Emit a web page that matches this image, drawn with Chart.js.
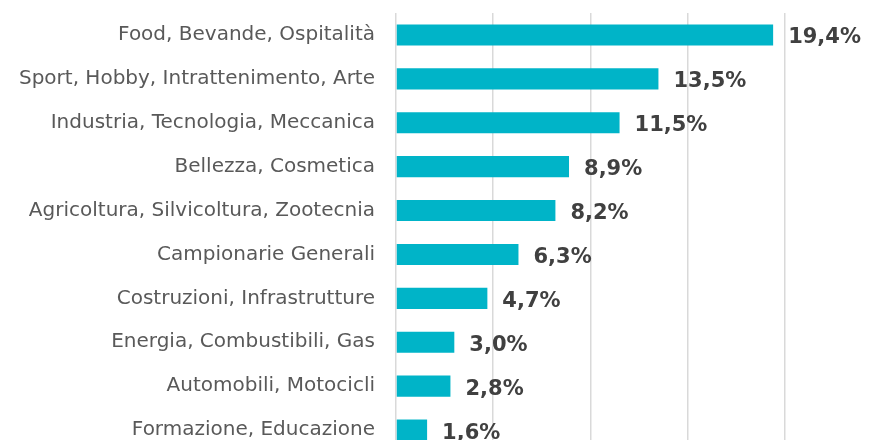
<!DOCTYPE html>
<html><head><meta charset="utf-8">
<script src="https://cdn.jsdelivr.net/npm/chart.js@4"></script>
<style>
html,body{margin:0;padding:0;background:#fff;overflow:hidden;width:870px;height:440px;}
canvas{position:absolute;left:0;top:0;}
</style></head>
<body>
<canvas id="c" width="882" height="452"></canvas>
<script>
const categories = [
  "Food, Bevande, Ospitalità",
  "Sport, Hobby, Intrattenimento, Arte",
  "Industria, Tecnologia, Meccanica",
  "Bellezza, Cosmetica",
  "Agricoltura, Silvicoltura, Zootecnia",
  "Campionarie Generali",
  "Costruzioni, Infrastrutture",
  "Energia, Combustibili, Gas",
  "Automobili, Motocicli",
  "Formazione, Educazione"
];
const values = [19.4, 13.5, 11.5, 8.9, 8.2, 6.3, 4.7, 3.0, 2.8, 1.6];
const valueLabels = ["19,4%","13,5%","11,5%","8,9%","8,2%","6,3%","4,7%","3,0%","2,8%","1,6%"];

const labelPlugin = {
  id: 'valLabels',
  afterDatasetsDraw(chart) {
    const ctx = chart.ctx;
    const meta = chart.getDatasetMeta(0);
    ctx.save();
    ctx.font = 'bold 21px "DejaVu Sans"';
    ctx.fillStyle = '#404040';
    ctx.textAlign = 'left';
    ctx.textBaseline = 'middle';
    meta.data.forEach((bar, i) => {
      ctx.fillText(valueLabels[i], bar.x + 15, bar.y + 3);
    });
    ctx.restore();
  }
};

new Chart(document.getElementById('c'), {
  type: 'bar',
  data: {
    labels: categories,
    datasets: [{
      data: values,
      backgroundColor: '#00B4C8',
      borderWidth: 0,
      barPercentage: 0.6,
      categoryPercentage: 0.8
    }]
  },
  options: {
    indexAxis: 'y',
    responsive: false,
    animation: false,
    layout: { autoPadding: false, padding: { top: 13, right: 0, bottom: 0, left: 0 } },
    plugins: { legend: { display: false }, tooltip: { enabled: false } },
    scales: {
      x: {
        min: 0, max: 25,
        ticks: { display: false, stepSize: 5 },
        grid: { color: '#D9D9D9', lineWidth: 1.5, drawTicks: false },
        border: { display: false },
        afterFit(scale) { scale.height = 0; }
      },
      y: {
        ticks: {
          color: '#595959',
          font: { family: '"DejaVu Sans"', size: 20 },
          padding: 21
        },
        grid: { display: false, drawTicks: false },
        border: { display: false },
        afterFit(scale) {
          scale.width = 396;
          scale.paddingTop = 0;
          scale.paddingBottom = 0;
        }
      }
    }
  },
  plugins: [labelPlugin]
});
</script>
</body></html>
